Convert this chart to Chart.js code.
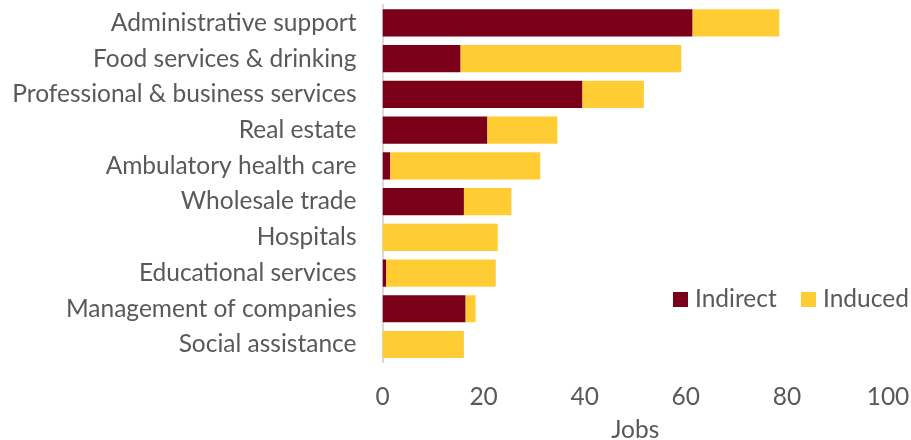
<!DOCTYPE html>
<html>
<head>
<meta charset="utf-8">
<script src="https://cdn.jsdelivr.net/npm/chart.js@4/dist/chart.umd.min.js"></script>
<style>
  html, body { margin: 0; padding: 0; background: #ffffff; }
  #wrap { width: 911px; height: 440px; position: relative; }
</style>
</head>
<body>
<div id="wrap"><canvas id="c"></canvas></div>
<script>
// Jobs supported by industry, split into indirect and induced effects
const industries = [
  'Administrative support',
  'Food services & drinking',
  'Professional & business services',
  'Real estate',
  'Ambulatory health care',
  'Wholesale trade',
  'Hospitals',
  'Educational services',
  'Management of companies',
  'Social assistance'
];
const indirectJobs = [61.3, 15.4, 39.5, 20.7, 1.5, 16.1, 0, 0.7, 16.4, 0];
const inducedJobs  = [17.2, 43.7, 12.2, 13.9, 29.7, 9.4, 22.8, 21.7, 2.0, 16.1];
const seriesNames = ['Indirect', 'Induced'];
const xTicks = [0, 20, 40, 60, 80, 100];

const MAROON = '#7a0019';
const GOLD = '#ffcc33';
const TEXT = '#595959';
const FONT = 'Lato, "Open Sans", sans-serif';
const SIZE = 24.5;

// Legend drawn inside the plot area, to the lower right
const insideLegend = {
  id: 'insideLegend',
  afterDraw(chart) {
    const ctx = chart.ctx;
    const spots = [{ box: 673, text: 695 }, { box: 801, text: 823 }];
    ctx.save();
    ctx.font = SIZE + 'px ' + FONT;
    ctx.textBaseline = 'middle';
    ctx.textAlign = 'left';
    chart.data.datasets.forEach((ds, i) => {
      const s = spots[i];
      ctx.fillStyle = ds.backgroundColor;
      ctx.fillRect(s.box, 292, 15, 15);
      ctx.fillStyle = TEXT;
      ctx.fillText(ds.label, s.text, 299.5);
    });
    ctx.restore();
  }
};

new Chart(document.getElementById('c'), {
  type: 'bar',
  data: {
    labels: industries,
    datasets: [
      { label: seriesNames[0], data: indirectJobs, backgroundColor: MAROON },
      { label: seriesNames[1], data: inducedJobs, backgroundColor: GOLD }
    ]
  },
  options: {
    indexAxis: 'y',
    responsive: true,
    maintainAspectRatio: false,
    animation: false,
    layout: { padding: { top: 5, right: 23, bottom: 0, left: 0 } },
    datasets: { bar: { barPercentage: 0.76, categoryPercentage: 1 } },
    plugins: { legend: { display: false }, tooltip: { enabled: false } },
    scales: {
      x: {
        stacked: true,
        min: 0,
        max: 100,
        afterBuildTicks(scale) { scale.ticks = xTicks.map(v => ({ value: v })); },
        grid: { display: false, drawTicks: false },
        border: { display: false },
        ticks: { color: TEXT, font: { family: FONT, size: SIZE }, padding: 20, maxRotation: 0 },
        title: {
          display: true,
          text: 'Jobs',
          color: TEXT,
          font: { family: FONT, size: SIZE, lineHeight: 1 },
          padding: { top: 0, bottom: -2 }
        },
        afterFit(scale) {
          scale.height = 77.6;
          scale.paddingLeft = 0;
          scale.paddingRight = 0;
        }
      },
      y: {
        stacked: true,
        grid: { display: false, drawTicks: false },
        border: { display: true, color: '#d9d9d9', width: 2 },
        ticks: { color: TEXT, font: { family: FONT, size: SIZE }, padding: 26, autoSkip: false },
        afterFit(scale) {
          scale.width = 382.5;
          scale.paddingTop = 0;
          scale.paddingBottom = 0;
        }
      }
    }
  },
  plugins: [insideLegend]
});
</script>
</body>
</html>
